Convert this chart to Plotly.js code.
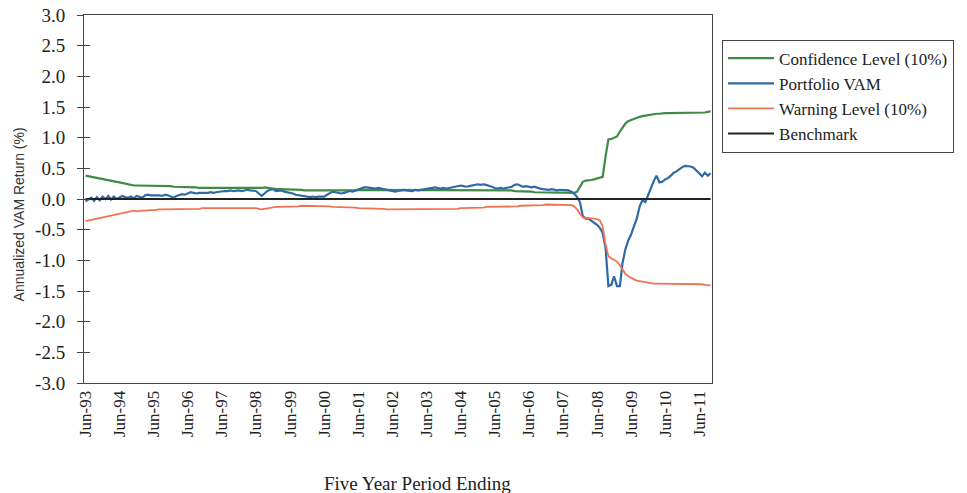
<!DOCTYPE html>
<html>
<head>
<meta charset="utf-8">
<script src="https://cdn.plot.ly/plotly-3.0.1.min.js"></script>
<style>
  html, body { margin: 0; padding: 0; background: #ffffff; }
  #chart { width: 967px; height: 493px; }
</style>
</head>
<body>
<div id="chart"></div>
<script>
// Five-year periods ending monthly, Jun-93 .. Oct-11 (one value per month)
const firstPeriodYear = 1993;
const firstPeriodMonth = 6;

const seriesNames = ["Confidence Level (10%)", "Portfolio VAM", "Warning Level (10%)", "Benchmark"];
const xTitle = "Five Year Period Ending";
const yTitle = "Annualized VAM Return (%)";

const confidenceLevel = [
  0.38,0.37,0.36,0.35,0.35,0.34,0.33,0.32,0.31,0.30,0.29,0.28,
  0.27,0.26,0.24,0.23,0.22,0.22,0.22,0.22,0.22,0.22,0.22,0.22,
  0.22,0.22,0.22,0.22,0.22,0.21,0.21,0.20,0.20,0.19,0.19,0.19,
  0.19,0.19,0.19,0.19,0.18,0.18,0.18,0.18,0.18,0.18,0.17,0.17,
  0.17,0.17,0.17,0.17,0.17,0.17,0.17,0.17,0.17,0.17,0.17,0.17,
  0.17,0.17,0.18,0.19,0.18,0.17,0.16,0.16,0.16,0.16,0.16,0.15,
  0.15,0.15,0.15,0.15,0.15,0.14,0.14,0.13,0.13,0.13,0.13,0.13,
  0.13,0.13,0.13,0.13,0.14,0.14,0.14,0.14,0.14,0.14,0.14,0.14,
  0.15,0.15,0.15,0.15,0.15,0.15,0.15,0.15,0.15,0.15,0.15,0.15,
  0.15,0.15,0.15,0.15,0.15,0.15,0.15,0.15,0.15,0.15,0.15,0.15,
  0.15,0.15,0.15,0.15,0.15,0.15,0.15,0.15,0.15,0.15,0.15,0.15,
  0.15,0.15,0.15,0.15,0.15,0.15,0.15,0.15,0.14,0.14,0.14,0.14,
  0.14,0.14,0.14,0.14,0.14,0.14,0.14,0.13,0.13,0.13,0.12,0.12,
  0.12,0.12,0.11,0.11,0.10,0.10,0.10,0.10,0.10,0.10,0.10,0.10,
  0.10,0.10,0.10,0.10,0.10,0.12,0.20,0.28,0.30,0.30,0.31,0.32,
  0.33,0.34,0.36,0.70,0.97,0.98,1.00,1.02,1.10,1.17,1.23,1.27,
  1.29,1.31,1.33,1.34,1.35,1.36,1.37,1.37,1.38,1.39,1.39,1.40,
  1.40,1.40,1.40,1.40,1.40,1.40,1.40,1.40,1.41,1.41,1.41,1.41,
  1.41,1.41,1.41,1.42,1.43
];

const portfolioVAM = [
  -0.04,-0.01,0.02,-0.03,0.03,-0.02,0.04,0.00,0.05,-0.01,0.04,0.00,
  0.02,0.05,0.03,0.02,0.04,0.01,0.05,0.03,0.02,0.06,0.07,0.06,
  0.06,0.07,0.06,0.05,0.07,0.06,0.04,0.02,0.05,0.07,0.08,0.07,
  0.09,0.11,0.10,0.09,0.10,0.10,0.09,0.10,0.11,0.10,0.11,0.12,
  0.12,0.13,0.13,0.14,0.13,0.14,0.14,0.13,0.14,0.15,0.14,0.13,
  0.13,0.09,0.05,0.09,0.13,0.15,0.16,0.13,0.13,0.14,0.12,0.11,
  0.11,0.09,0.07,0.06,0.05,0.05,0.04,0.03,0.04,0.03,0.04,0.04,
  0.04,0.07,0.09,0.12,0.11,0.10,0.09,0.10,0.12,0.13,0.12,0.14,
  0.16,0.18,0.19,0.19,0.18,0.18,0.17,0.18,0.17,0.16,0.15,0.14,
  0.13,0.12,0.13,0.14,0.15,0.14,0.14,0.13,0.15,0.14,0.15,0.16,
  0.17,0.17,0.18,0.19,0.18,0.17,0.18,0.17,0.18,0.19,0.21,0.22,
  0.22,0.21,0.20,0.21,0.22,0.23,0.24,0.23,0.24,0.23,0.22,0.20,
  0.18,0.17,0.18,0.17,0.18,0.19,0.20,0.23,0.24,0.22,0.20,0.21,
  0.20,0.19,0.20,0.18,0.17,0.16,0.15,0.15,0.16,0.15,0.14,0.15,
  0.15,0.14,0.14,0.12,0.09,0.03,-0.05,-0.28,-0.32,-0.32,-0.35,-0.38,
  -0.42,-0.47,-0.55,-0.80,-1.42,-1.40,-1.26,-1.42,-1.42,-1.05,-0.82,-0.68,
  -0.58,-0.45,-0.32,-0.12,-0.02,-0.05,0.08,0.18,0.30,0.38,0.27,0.28,
  0.32,0.34,0.38,0.43,0.45,0.49,0.52,0.54,0.54,0.53,0.51,0.47,
  0.42,0.37,0.43,0.38,0.42
];

const warningLevel = [
  -0.36,-0.35,-0.34,-0.33,-0.31,-0.30,-0.29,-0.28,-0.27,-0.26,-0.25,-0.24,
  -0.23,-0.22,-0.21,-0.20,-0.19,-0.19,-0.20,-0.19,-0.19,-0.19,-0.18,-0.18,
  -0.18,-0.17,-0.17,-0.17,-0.17,-0.16,-0.16,-0.16,-0.16,-0.16,-0.16,-0.16,
  -0.16,-0.16,-0.16,-0.16,-0.16,-0.15,-0.15,-0.15,-0.15,-0.15,-0.15,-0.15,
  -0.15,-0.15,-0.15,-0.15,-0.15,-0.15,-0.15,-0.15,-0.14,-0.14,-0.14,-0.14,
  -0.15,-0.16,-0.17,-0.16,-0.15,-0.14,-0.14,-0.13,-0.13,-0.13,-0.13,-0.13,
  -0.12,-0.12,-0.12,-0.12,-0.11,-0.11,-0.11,-0.11,-0.11,-0.11,-0.12,-0.12,
  -0.12,-0.12,-0.12,-0.13,-0.13,-0.13,-0.13,-0.13,-0.13,-0.13,-0.14,-0.14,
  -0.15,-0.15,-0.16,-0.16,-0.16,-0.16,-0.16,-0.16,-0.16,-0.16,-0.17,-0.17,
  -0.17,-0.17,-0.17,-0.17,-0.17,-0.17,-0.17,-0.17,-0.17,-0.17,-0.17,-0.17,
  -0.17,-0.17,-0.17,-0.16,-0.16,-0.16,-0.16,-0.16,-0.16,-0.16,-0.16,-0.16,
  -0.15,-0.15,-0.15,-0.14,-0.14,-0.14,-0.14,-0.14,-0.14,-0.13,-0.13,-0.13,
  -0.13,-0.13,-0.13,-0.13,-0.13,-0.12,-0.12,-0.12,-0.12,-0.11,-0.11,-0.11,
  -0.11,-0.11,-0.10,-0.10,-0.10,-0.10,-0.09,-0.09,-0.09,-0.09,-0.09,-0.09,
  -0.09,-0.09,-0.09,-0.10,-0.12,-0.17,-0.24,-0.30,-0.31,-0.31,-0.31,-0.32,
  -0.33,-0.35,-0.45,-0.75,-0.93,-0.97,-0.99,-1.02,-1.08,-1.15,-1.22,-1.26,
  -1.29,-1.31,-1.33,-1.34,-1.35,-1.36,-1.37,-1.37,-1.38,-1.38,-1.38,-1.38,
  -1.38,-1.38,-1.38,-1.38,-1.38,-1.38,-1.38,-1.38,-1.39,-1.39,-1.39,-1.39,
  -1.39,-1.39,-1.40,-1.40,-1.41
];

// Benchmark is a flat 0% line across all periods (first and last period)
const benchmarkValues = [0, 0];

const yTickValues = [-3.0, -2.5, -2.0, -1.5, -1.0, -0.5, 0.0, 0.5, 1.0, 1.5, 2.0, 2.5, 3.0];
const yTickLabels = ["-3.0", "-2.5", "-2.0", "-1.5", "-1.0", "-0.5", "0.0", "0.5", "1.0", "1.5", "2.0", "2.5", "3.0"];

// Build the period dates for each monthly value
function periodDate(i) {
  const total = (firstPeriodMonth - 1) + i;
  const y = firstPeriodYear + Math.floor(total / 12);
  const m = (total % 12) + 1;
  return y + "-" + String(m).padStart(2, "0") + "-01";
}
const periods = confidenceLevel.map((_, i) => periodDate(i));
const benchmarkPeriods = [periods[0], periods[periods.length - 1]];

const serif = "Liberation Serif, Times New Roman, serif";

const traces = [
  { x: periods, y: confidenceLevel, name: seriesNames[0], type: "scatter", mode: "lines",
    line: { color: "#3f8b45", width: 2.2 } },
  { x: periods, y: portfolioVAM, name: seriesNames[1], type: "scatter", mode: "lines",
    line: { color: "#2f6aa6", width: 2.2 } },
  { x: periods, y: warningLevel, name: seriesNames[2], type: "scatter", mode: "lines",
    line: { color: "#ef7353", width: 1.8 } },
  { x: benchmarkPeriods, y: benchmarkValues, name: seriesNames[3], type: "scatter", mode: "lines",
    line: { color: "#222222", width: 2 } },
  // empty helper trace so the inner tick marks (overlay axis) are drawn
  { x: [], y: [], yaxis: "y2", type: "scatter", mode: "lines", showlegend: false, hoverinfo: "skip" }
];

const layout = {
  width: 967, height: 493,
  margin: { l: 84, r: 255, t: 15, b: 110 },
  paper_bgcolor: "#ffffff", plot_bgcolor: "#ffffff",
  font: { family: serif, color: "#222222", size: 16 },
  showlegend: true,
  legend: {
    x: 1.016, y: 0.933, xanchor: "left", yanchor: "top",
    bordercolor: "#444444", borderwidth: 1,
    font: { family: serif, size: 17, color: "#222222" },
    itemwidth: 46, tracegroupgap: 0,
    bgcolor: "#ffffff"
  },
  xaxis: {
    type: "date",
    range: ["1993-05-16", "2011-10-16"],
    tick0: "1993-06-01", dtick: "M12", tickformat: "%b-%y",
    tickangle: -90,
    ticks: "",
    showgrid: false, zeroline: false,
    showline: true, linecolor: "#444444", linewidth: 1, mirror: true,
    tickfont: { family: serif, size: 17, color: "#222222" },
    automargin: false
  },
  yaxis: {
    range: [-3, 3],
    tickvals: yTickValues, ticktext: yTickLabels,
    ticks: "outside", ticklen: 6, tickcolor: "#444444",
    ticklabelstandoff: 8,
    showgrid: false, zeroline: false,
    showline: true, linecolor: "#444444", linewidth: 1, mirror: true,
    tickfont: { family: serif, size: 19, color: "#222222" },
    automargin: false
  },
  yaxis2: {
    range: [-3, 3], overlaying: "y", side: "left", anchor: "x",
    tickvals: yTickValues, ticks: "inside", ticklen: 6, tickcolor: "#444444",
    showticklabels: false, showgrid: false, zeroline: false, showline: false,
    automargin: false
  },
  annotations: [
    { text: xTitle, xref: "paper", yref: "paper", x: 0.531, y: -0.272,
      xanchor: "center", yanchor: "middle", showarrow: false,
      font: { family: serif, size: 19, color: "#222222" } },
    { text: yTitle, xref: "paper", yref: "paper", x: -0.103, y: 0.459,
      xanchor: "center", yanchor: "middle", textangle: -90, showarrow: false,
      font: { family: "Liberation Sans, Arial, sans-serif", size: 14, color: "#333333" } }
  ]
};

Plotly.newPlot("chart", traces, layout, { displayModeBar: false, staticPlot: true });
</script>
</body>
</html>
